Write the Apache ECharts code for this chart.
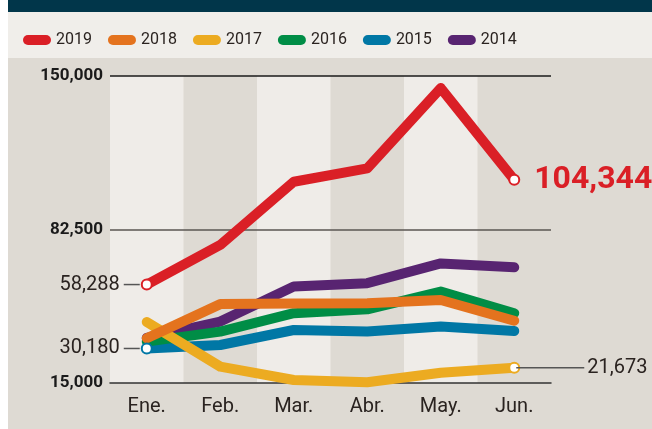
<!DOCTYPE html>
<html>
<head>
<meta charset="utf-8">
<script src="https://cdn.jsdelivr.net/npm/echarts@6/dist/echarts.min.js"></script>
<style>
  html, body { margin: 0; padding: 0; background: #ffffff; }
  #chart { width: 652px; height: 429px; }
</style>
</head>
<body>
<div id="chart"></div>
<script>
// months (x axis) and y tick values
const months = ["Ene.", "Feb.", "Mar.", "Abr.", "May.", "Jun."];
const yTicks = [15000, 82500, 150000];

// monthly values per year
const y2019 = [58288, 75700, 103500, 109400, 144700, 104344];
const y2018 = [34700, 49700, 50000, 50100, 51500, 42400];
const y2017 = [41800, 22200, 16300, 15300, 19500, 21673];
const y2016 = [33200, 37600, 45700, 47400, 55200, 45700];
const y2015 = [30180, 31700, 38300, 37600, 39800, 37900];
const y2014 = [34800, 42000, 57400, 58900, 67600, 65900];

const font = "Roboto, 'DejaVu Sans', sans-serif";
const ink = "#2a2320";

const chart = echarts.init(document.getElementById("chart"));

// only some points get a white dot, with an optional label
function points(values, color, marks) {
  return values.map((v, i) => {
    const m = marks[i];
    if (!m) return v;
    return {
      value: v,
      symbol: "circle",
      symbolSize: 10,
      itemStyle: { color: "#fff", borderColor: color, borderWidth: 2 },
      label: m.label ? Object.assign({ show: true }, m.label) : { show: false }
    };
  });
}

function year(name, values, color, marks) {
  return {
    name: name,
    type: "line",
    symbol: "none",
    showSymbol: true,
    data: points(values, color, marks || {}),
    itemStyle: { color: color },
    lineStyle: { color: color, width: 10, cap: "round", join: "round" },
    silent: true
  };
}

// label with a short leader line drawn as a rich-text box
const leftLabel = (txt) => ({
  position: "left",
  distance: 1,
  formatter: "{v|" + txt + "}{g|}",
  rich: {
    v: { fontFamily: font, fontSize: 20, color: ink, padding: [0, 4, 0, 0] },
    g: { width: 16, height: 1.5, backgroundColor: "#555" }
  }
});
const rightLabel = (txt) => ({
  position: "right",
  distance: -4,
  formatter: "{g|}{v|" + txt + "}",
  rich: {
    v: { fontFamily: font, fontSize: 20, color: ink, padding: [0, 0, 0, 3] },
    g: { width: 68, height: 1.5, backgroundColor: "#555" }
  }
});

const series = [
  year("2014", y2014, "#582471"),
  year("2015", y2015, "#0077a5", { 0: { label: leftLabel("30,180") } }),
  year("2016", y2016, "#008d46"),
  year("2017", y2017, "#ecab21", { 5: { label: rightLabel("21,673") } }),
  year("2018", y2018, "#e4731e"),
  year("2019", y2019, "#da1f26", {
    0: { label: leftLabel("58,288") },
    5: { label: { position: "right", distance: 14, formatter: "104,344", fontFamily: font, fontWeight: "bold", fontSize: 32, color: "#da1f26" } }
  })
];

// reference lines at the upper ticks
series[0].markLine = {
  silent: true,
  symbol: "none",
  z: 1,
  label: { show: false },
  data: [
    { yAxis: yTicks[2], lineStyle: { color: "#1a1a1a", width: 1.5, type: "solid" } },
    { yAxis: yTicks[1], lineStyle: { color: "#5a5652", width: 1.5, type: "solid" } }
  ]
};

chart.setOption({
  backgroundColor: "#dedad3",
  animation: false,
  graphic: [
    { type: "rect", shape: { x: 0, y: 0, width: 8, height: 429 }, style: { fill: "#ffffff" } },
    { type: "rect", shape: { x: 8, y: 0, width: 644, height: 12 }, style: { fill: "#01364a" } },
    { type: "rect", shape: { x: 8, y: 12, width: 644, height: 46 }, style: { fill: "#f0eeea" } }
  ],
  legend: {
    data: ["2019", "2018", "2017", "2016", "2015", "2014"],
    left: 18,
    top: 27,
    icon: "path://M5,0H23A5,5 0 0 1 23,10H5A5,5 0 0 1 5,0Z",
    itemWidth: 28,
    itemHeight: 10,
    itemGap: 16,
    textStyle: { fontFamily: font, fontSize: 16, color: ink },
    selectedMode: false
  },
  grid: { left: 110, right: 101, top: 76, bottom: 46 },
  xAxis: {
    type: "category",
    data: months,
    axisLine: { lineStyle: { color: "#333", width: 1.5 } },
    axisTick: { inside: true, length: 6, lineStyle: { color: "#333", width: 1.5 } },
    axisLabel: { fontFamily: font, fontSize: 20, color: ink, margin: 14 },
    splitArea: { show: true, areaStyle: { color: ["#efece8", "rgba(0,0,0,0)"] } },
    splitLine: { show: false }
  },
  yAxis: {
    type: "value",
    min: yTicks[0],
    max: yTicks[2],
    interval: 7500,
    axisLine: { show: false },
    axisTick: { show: false },
    splitLine: { show: false },
    axisLabel: {
      margin: 7,
      fontFamily: font,
      fontWeight: "bold",
      fontSize: 17,
      color: "#1a1a1a",
      formatter: (v) => (yTicks.indexOf(v) >= 0 ? v.toLocaleString("en-US") : "")
    }
  },
  series: series
});
</script>
</body>
</html>
